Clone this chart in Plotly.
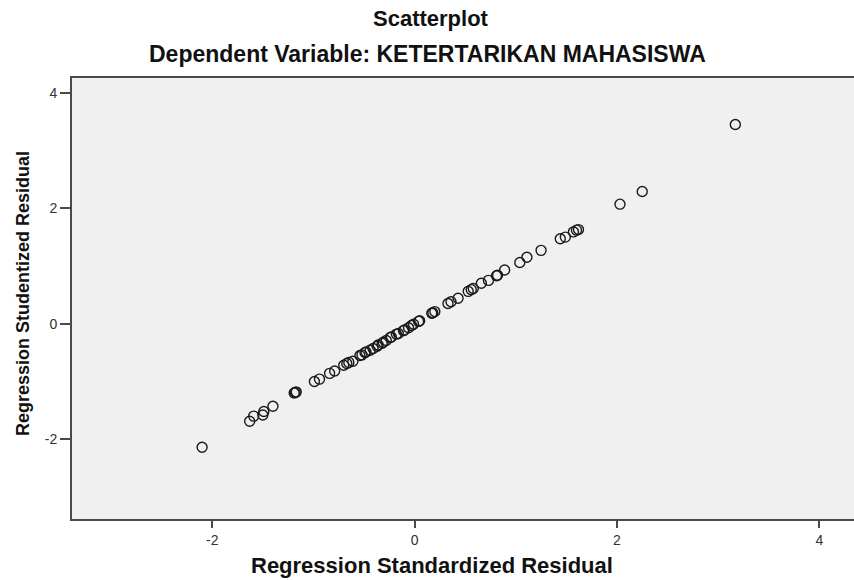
import plotly.graph_objects as go

# Regression Standardized Residual (x) vs Regression Studentized Residual (y)
std_resid = [-2.10, -1.63, -1.59, -1.50, -1.49, -1.40, -1.19, -1.18, -1.17, -0.99,
             -0.94, -0.84, -0.79, -0.70, -0.67, -0.65, -0.61, -0.54, -0.52, -0.49,
             -0.48, -0.44, -0.41, -0.37, -0.36, -0.32, -0.31, -0.28, -0.24, -0.23,
             -0.18, -0.16, -0.11, -0.10, -0.06, -0.03, -0.01, 0.04, 0.05, 0.17,
             0.18, 0.20, 0.33, 0.36, 0.43, 0.53, 0.56, 0.58, 0.66, 0.73,
             0.81, 0.82, 0.89, 1.04, 1.11, 1.25, 1.44, 1.49, 1.57, 1.60,
             1.62, 2.03, 2.25, 3.17]
stud_resid = [-2.14, -1.69, -1.60, -1.58, -1.52, -1.43, -1.20, -1.19, -1.18, -1.00,
              -0.96, -0.86, -0.82, -0.72, -0.69, -0.67, -0.65, -0.55, -0.54, -0.50,
              -0.49, -0.46, -0.43, -0.39, -0.37, -0.34, -0.32, -0.29, -0.24, -0.23,
              -0.18, -0.17, -0.12, -0.11, -0.07, -0.03, -0.01, 0.04, 0.05, 0.18,
              0.19, 0.21, 0.35, 0.38, 0.44, 0.56, 0.59, 0.61, 0.70, 0.75,
              0.83, 0.84, 0.93, 1.06, 1.15, 1.27, 1.47, 1.50, 1.59, 1.62,
              1.63, 2.07, 2.29, 3.45]

x_tickvals = [-2, 0, 2, 4]
x_ticktext = ["-2", "0", "2", "4"]
y_tickvals = [-2, 0, 2, 4]
y_ticktext = ["-2", "0", "2", "4"]

title_text = "Scatterplot"
subtitle_text = "Dependent Variable: KETERTARIKAN MAHASISWA"
x_title = "Regression Standardized Residual"
y_title = "Regression Studentized Residual"

FONT = "Liberation Sans, Arial, sans-serif"

fig = go.Figure()
fig.add_trace(go.Scatter(
    x=std_resid, y=stud_resid, mode="markers",
    marker=dict(symbol="circle-open", size=10, color="#1a1a1a",
                line=dict(width=1.4, color="#1a1a1a")),
    showlegend=False, hoverinfo="x+y",
))

axis_color = "#4a4a4a"
fig.update_layout(
    width=854, height=580,
    margin=dict(l=72, r=0, t=78, b=61),
    paper_bgcolor="white",
    plot_bgcolor="#f0f0f0",
    font=dict(family=FONT, color="#222222"),
    xaxis=dict(
        range=[-3.386, 4.343],
        tickvals=x_tickvals, ticktext=x_ticktext,
        showgrid=False, zeroline=False,
        showline=True, linecolor=axis_color, linewidth=2, mirror=True,
        ticks="outside", ticklen=7, tickwidth=2, tickcolor=axis_color,
        tickfont=dict(size=14, color="#333333", family=FONT),
    ),
    yaxis=dict(
        range=[-3.382, 4.255],
        tickvals=y_tickvals, ticktext=y_ticktext,
        showgrid=False, zeroline=False,
        showline=True, linecolor=axis_color, linewidth=2, mirror=False,
        ticks="outside", ticklen=10, tickwidth=2, tickcolor=axis_color,
        tickfont=dict(size=14, color="#333333", family=FONT),
    ),
    annotations=[
        dict(text="<b>" + title_text + "</b>", xref="paper", yref="paper",
             x=(431 - 72) / 782, y=(519 - 18) / 441, xanchor="center", yanchor="middle",
             showarrow=False, font=dict(size=22, family=FONT, color="#111111")),
        dict(text="<b>" + subtitle_text + "</b>", xref="paper", yref="paper",
             x=(427 - 72) / 782, y=(519 - 54) / 441, xanchor="center", yanchor="middle",
             showarrow=False, font=dict(size=23, family=FONT, color="#111111")),
        dict(text="<b>" + x_title + "</b>", xref="paper", yref="paper",
             x=(432 - 72) / 782, y=(519 - 565) / 441, xanchor="center", yanchor="middle",
             showarrow=False, font=dict(size=22, family=FONT, color="#111111")),
        dict(text="<b>" + y_title + "</b>", xref="paper", yref="paper",
             x=(23 - 72) / 782, y=(519 - 294) / 441, xanchor="center", yanchor="middle",
             textangle=-90,
             showarrow=False, font=dict(size=18, family=FONT, color="#111111")),
    ],
)

fig.write_html(
    "out.html",
    config={"displayModeBar": False},
    post_script="document.body.style.margin='0';document.body.style.overflow='hidden';",
)
